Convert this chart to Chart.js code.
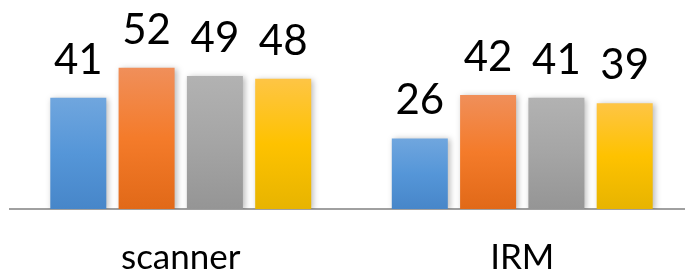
<!DOCTYPE html>
<html>
<head>
<meta charset="utf-8">
<script src="https://cdn.jsdelivr.net/npm/chart.js@4"></script>
<style>
html,body{margin:0;padding:0;background:#fff;overflow:hidden;}
#wrap{width:700px;height:272px;overflow:hidden;}
</style>
</head>
<body>
<div id="wrap"><canvas id="c" width="700" height="306"></canvas></div>
<script>
const categories = ["scanner", "IRM"];
const seriesA = [41, 26];
const seriesB = [52, 42];
const seriesC = [49, 41];
const seriesD = [48, 39];
const seriesNames = ["Série 1", "Série 2", "Série 3", "Série 4"];
const palettes = [
  ["#70a6de", "#5596d8", "#4786c9"],
  ["#f08f5a", "#f47b2a", "#e16918"],
  ["#b2b2b2", "#a5a5a5", "#959595"],
  ["#fec545", "#fec200", "#e7b400"]
];

function gradFill(idx) {
  return function(ctx) {
    const chart = ctx.chart;
    const p = palettes[idx];
    if (!chart.chartArea || ctx.type !== 'data') return p[1];
    const y = chart.scales.y;
    const top = y.getPixelForValue(ctx.raw);
    const bot = y.getPixelForValue(0);
    const g = chart.ctx.createLinearGradient(0, top, 0, bot);
    g.addColorStop(0, p[0]);
    g.addColorStop(0.5, p[1]);
    g.addColorStop(1, p[2]);
    return g;
  };
}

const shadowPlugin = {
  id: 'shadow',
  beforeDatasetsDraw(chart) {
    const c = chart.ctx;
    c.save();
    c.shadowColor = 'rgba(0,0,0,0.28)';
    c.shadowBlur = 6;
    c.shadowOffsetX = 2;
    c.shadowOffsetY = 1;
  },
  afterDatasetsDraw(chart) {
    chart.ctx.restore();
  }
};

const labelPlugin = {
  id: 'vlabels',
  afterDraw(chart) {
    const c = chart.ctx;
    c.save();
    c.font = '42px Lato';
    c.fillStyle = '#000';
    c.textAlign = 'center';
    c.textBaseline = 'alphabetic';
    chart.data.datasets.forEach((ds, i) => {
      const meta = chart.getDatasetMeta(i);
      meta.data.forEach((el, j) => {
        c.fillText(String(ds.data[j]), el.x, el.y - 24);
      });
    });
    c.restore();
  }
};

const datasets = [seriesA, seriesB, seriesC, seriesD].map((d, i) => ({
  label: seriesNames[i],
  data: d,
  backgroundColor: gradFill(i),
  borderWidth: 0,
  barPercentage: 0.82,
  categoryPercentage: 0.8
}));

new Chart(document.getElementById('c'), {
  type: 'bar',
  data: { labels: categories, datasets },
  options: {
    responsive: false,
    animation: false,
    layout: { padding: { left: 10, right: 7, top: 0, bottom: 0 } },
    plugins: { legend: { display: false }, tooltip: { enabled: false } },
    scales: {
      y: { display: false, min: 0, max: 77 },
      x: {
        grid: { display: false, drawTicks: false },
        border: { display: true, color: '#a0a0a0', width: 2 },
        ticks: { color: '#000', padding: 31, font: { family: 'Lato', size: 35, lineHeight: 1 } }
      }
    }
  },
  plugins: [shadowPlugin, labelPlugin]
});
</script>
</body>
</html>
